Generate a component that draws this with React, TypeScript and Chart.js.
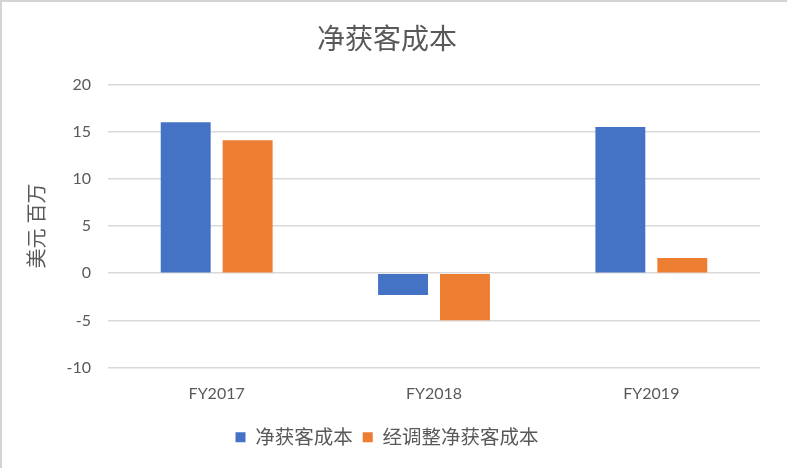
import React, { useEffect, useRef } from "react";
import { Chart, registerables } from "chart.js";

Chart.register(...registerables);

const categories = ["FY2017", "FY2018", "FY2019"];
const netCac = [16.0, -2.3, 15.5];
const adjustedNetCac = [14.1, -5.0, 1.6];
const seriesNames = ["净获客成本", "经调整净获客成本"];
const chartTitle = "净获客成本";
const yAxisTitle = "美元 百万";

const FONT = "Lato, 'Noto Sans CJK SC', sans-serif";
const TEXT = "#595959";

export default function App() {
  const ref = useRef<HTMLCanvasElement>(null);

  useEffect(() => {
    document.body.style.margin = "0";
    const ctx = ref.current!;
    const chart = new Chart(ctx, {
      type: "bar",
      data: {
        labels: categories,
        datasets: [
          {
            label: seriesNames[0],
            data: netCac,
            backgroundColor: "#4472C4",
            categoryPercentage: 0.57,
            barPercentage: 0.806,
          },
          {
            label: seriesNames[1],
            data: adjustedNetCac,
            backgroundColor: "#ED7D31",
            categoryPercentage: 0.57,
            barPercentage: 0.806,
          },
        ],
      },
      options: {
        animation: false,
        responsive: false,
        maintainAspectRatio: false,
        layout: { padding: { left: 12, right: 27, top: 0, bottom: 11 } },
        plugins: {
          title: {
            display: true,
            text: chartTitle,
            color: TEXT,
            font: { family: FONT, size: 28, weight: "normal" },
            padding: { top: 21, bottom: 28 },
          },
          legend: {
            position: "bottom",
            labels: {
              color: TEXT,
              font: { family: FONT, size: 19.5 },
              boxWidth: 10,
              boxHeight: 10,
              padding: 10,
            },
          },
          tooltip: { enabled: false },
        },
        scales: {
          x: {
            grid: { display: false, drawTicks: false },
            border: { display: false },
            ticks: { color: TEXT, font: { family: FONT, size: 16 }, padding: 17 },
            afterFit: (s: any) => {
              s.height = 50;
            },
          },
          y: {
            min: -10,
            max: 20,
            ticks: {
              stepSize: 5,
              color: TEXT,
              font: { family: FONT, size: 16 },
              padding: 17,
            },
            grid: { color: "#d9d9d9", lineWidth: 1.5, drawTicks: false },
            border: { display: false },
            title: {
              display: true,
              text: yAxisTitle,
              color: TEXT,
              font: { family: FONT, size: 20, weight: "normal" },
              padding: { top: 12, bottom: 0 },
            },
            afterFit: (s: any) => {
              s.width = 94;
            },
          },
        },
      },
    });
    return () => chart.destroy();
  }, []);

  return (
    <div
      style={{
        position: "fixed",
        left: 0,
        top: 0,
        width: 787,
        height: 468,
        background: "#fff",
        boxSizing: "border-box",
        borderTop: "2px solid #d4d4d4",
        borderLeft: "2px solid #d4d4d4",
      }}
    >
      <canvas ref={ref} width={785} height={466} style={{ display: "block" }} />
    </div>
  );
}
